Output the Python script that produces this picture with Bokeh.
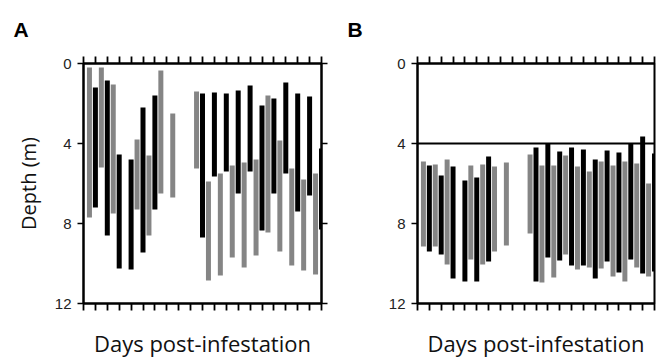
import math
from bokeh.plotting import figure
from bokeh.models import Range1d, LinearAxis, FixedTicker, Span
from bokeh.layouts import row
from bokeh.embed import file_html
from bokeh.resources import INLINE

# ---------------- data (depth in m, days post-infestation) ----------------
days_ticks = list(range(0, 21))
depth_ticks = [0, 4, 8, 12]

# Panel A
a_gray_day = [0.5, 1.5, 2.5, 4.5, 5.5, 6.5, 7.5, 9.5, 10.5, 11.5, 12.5, 13.5, 14.5, 15.5, 16.5, 17.5, 18.5, 19.5]
a_gray_top = [0.2, 0.2, 1.05, 3.8, 4.6, 0.35, 2.5, 1.4, 5.9, 5.5, 5.1, 4.95, 4.8, 1.6, 3.85, 5.25, 5.8, 5.5]
a_gray_bot = [7.7, 5.2, 7.5, 7.3, 8.6, 6.5, 6.7, 5.25, 10.85, 10.6, 9.7, 10.2, 9.6, 8.45, 9.4, 10.1, 10.35, 10.55]

a_black_day = [1, 2, 3, 4, 5, 6, 10, 11, 12, 13, 14, 15, 16, 17, 18, 19, 20]
a_black_top = [1.2, 0.85, 4.55, 4.8, 2.2, 1.6, 1.5, 1.45, 1.5, 1.35, 1.1, 2.1, 1.75, 0.95, 1.5, 1.65, 4.25]
a_black_bot = [7.2, 8.6, 10.25, 10.3, 9.45, 7.3, 8.7, 5.65, 5.4, 6.5, 5.4, 8.35, 6.5, 5.5, 7.4, 6.6, 8.3]

# Panel B
b_gray_day = [0.5, 1.5, 2.5, 4.5, 5.5, 6.5, 7.5, 9.5, 10.5, 11.5, 12.5, 13.5, 14.5, 15.5, 16.5, 17.5, 18.5, 19.5]
b_gray_top = [4.9, 5.05, 4.8, 5.1, 5.05, 5.15, 4.95, 4.55, 5.1, 5.1, 4.6, 5.15, 5.4, 4.9, 5.1, 4.9, 5.0, 6.0]
b_gray_bot = [9.15, 9.15, 10.05, 9.8, 10.05, 9.4, 9.1, 8.5, 10.95, 10.7, 9.55, 10.3, 10.2, 10.25, 10.65, 10.9, 10.2, 10.65]

b_black_day = [1, 2, 3, 4, 5, 6, 10, 11, 12, 13, 14, 15, 16, 17, 18, 19, 20]
b_black_top = [5.1, 5.6, 5.15, 5.85, 5.7, 4.65, 4.2, 4.0, 4.4, 4.2, 4.3, 4.8, 4.35, 4.45, 4.0, 3.65, 4.5]
b_black_bot = [9.4, 9.55, 10.75, 10.9, 10.9, 9.9, 10.9, 9.7, 9.85, 10.1, 10.1, 10.75, 9.9, 10.45, 9.8, 10.5, 10.4]

b_threshold = 4

GRAY = "#858585"
BLACK = "#000000"
BAR_W = 0.42


def hide_labels(ax):
    ax.major_label_text_color = None
    ax.major_label_text_font_size = "0px"
    ax.major_label_standoff = 0


def make_panel(width, left, right, letter, ylabel, gday, gtop, gbot, kday, ktop, kbot, right_axis=True):
    p = figure(width=width, height=360, output_backend="svg", toolbar_location=None,
               x_range=Range1d(0, 20), y_range=Range1d(12, 0),
               min_border_left=left, min_border_right=right,
               min_border_top=62, min_border_bottom=54,
               x_axis_location=None, y_axis_location=None)
    p.grid.visible = False
    p.outline_line_color = "black"
    p.outline_line_width = 2
    p.background_fill_color = "white"
    p.border_fill_color = "white"

    p.title.text = letter
    p.title.align = "left"
    p.title.offset = -70
    p.title.standoff = 31
    p.title.text_font = "Liberation Sans"
    p.title.text_font_style = "bold"
    p.title.text_font_size = "21px"
    p.title.text_color = "black"

    p.vbar(x=gday, bottom=gtop, top=gbot, width=BAR_W, fill_color=GRAY, line_color=None)
    p.vbar(x=kday, bottom=ktop, top=kbot, width=BAR_W, fill_color=BLACK, line_color=None)

    # left axis
    yl = LinearAxis(ticker=FixedTicker(ticks=depth_ticks))
    yl.major_tick_out = 6
    yl.major_tick_in = 0
    yl.minor_tick_out = 0
    yl.minor_tick_in = 0
    yl.major_tick_line_width = 1.5
    yl.axis_line_width = 2
    yl.major_label_standoff = 6
    yl.major_label_text_font = "Liberation Sans"
    yl.major_label_text_font_size = "15px"
    yl.major_label_text_color = "#222222"
    if ylabel:
        yl.axis_label = ylabel
        yl.axis_label_text_font = "Open Sans"
        yl.axis_label_text_font_size = "20px"
        yl.axis_label_text_font_style = "normal"
        yl.axis_label_text_color = "#111111"
        yl.axis_label_standoff = 10
    p.add_layout(yl, "left")

    if right_axis:
        yr = LinearAxis(ticker=FixedTicker(ticks=depth_ticks))
        yr.major_tick_out = 6
        yr.major_tick_in = 0
        yr.minor_tick_out = 0
        yr.minor_tick_in = 0
        yr.major_tick_line_width = 1.5
        yr.axis_line_width = 2
        hide_labels(yr)
        p.add_layout(yr, "right")

    xt = LinearAxis(ticker=FixedTicker(ticks=days_ticks))
    xb = LinearAxis(ticker=FixedTicker(ticks=days_ticks))
    for xa in (xt, xb):
        xa.major_tick_out = 7
        xa.major_tick_in = 0
        xa.minor_tick_out = 0
        xa.minor_tick_in = 0
        xa.major_tick_line_width = 1.8
        xa.axis_line_width = 2
        hide_labels(xa)
    xb.axis_label = "Days post-infestation"
    xb.axis_label_text_font = "Open Sans"
    xb.axis_label_text_font_size = "22px"
    xb.axis_label_text_font_style = "normal"
    xb.axis_label_text_color = "#111111"
    xb.axis_label_standoff = 17
    p.add_layout(xt, "above")
    p.add_layout(xb, "below")
    return p


pA = make_panel(340, 83, 19, "A", "Depth (m)", a_gray_day, a_gray_top, a_gray_bot,
                a_black_day, a_black_top, a_black_bot, right_axis=True)
pB = make_panel(316, 77, 2, "B", None, b_gray_day, b_gray_top, b_gray_bot,
                b_black_day, b_black_top, b_black_bot, right_axis=False)
pB.add_layout(Span(location=b_threshold, dimension="width", line_color="black", line_width=2))

layout = row(pA, pB)
open("out.html", "w").write(file_html(layout, INLINE))
